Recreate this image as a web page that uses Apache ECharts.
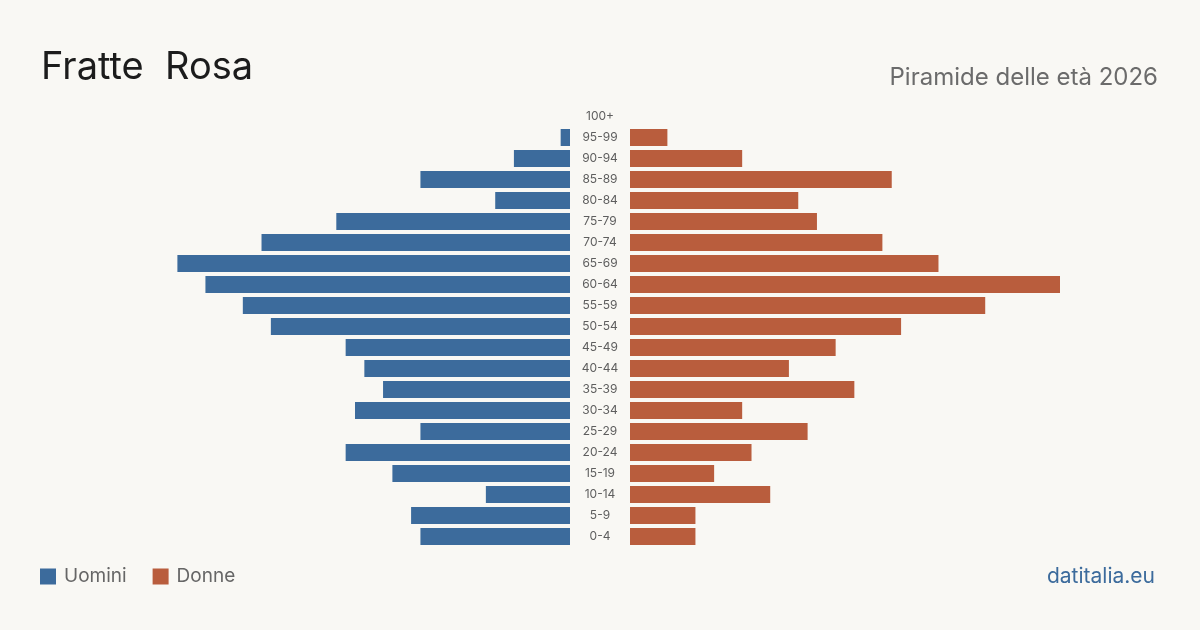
<!DOCTYPE html>
<html>
<head>
<meta charset="utf-8">
<script src="https://cdn.jsdelivr.net/npm/echarts@6/dist/echarts.min.js"></script>
<style>
  html, body { margin: 0; padding: 0; background: #f9f8f4; }
  #main { width: 1200px; height: 630px; }
</style>
</head>
<body>
<div id="main"></div>
<script>
var classi = ['0-4', '5-9', '10-14', '15-19', '20-24', '25-29', '30-34', '35-39', '40-44',
	'45-49', '50-54', '55-59', '60-64', '65-69', '70-74', '75-79', '80-84', '85-89',
	'90-94', '95-99', '100+'];
var uomini = [16, 17, 9, 19, 24, 16, 23, 20, 22, 24, 32, 35, 39, 42, 33, 25, 8, 16, 6, 1, 0];
var donne = [7, 7, 15, 9, 13, 19, 12, 24, 17, 22, 29, 38, 46, 33, 27, 20, 18, 28, 12, 4, 0];
var massimo = 46;

var blu = '#3c6b9c';
var arancio = '#b95d3d';
var font = 'Inter';

var opzioni = {
	backgroundColor: '#f9f8f4',
	animation: false,
	textStyle: { fontFamily: font },
	title: [{
		text: 'Fratte  Rosa',
		left: 36,
		top: 44,
		textStyle: { fontFamily: font, fontSize: 38, fontWeight: 'normal', color: '#1c1c1c' }
	}, {
		text: 'Piramide delle età 2026',
		right: 37,
		top: 61,
		textStyle: { fontFamily: font, fontSize: 24, fontWeight: 'normal', color: '#6b6b6b' }
	}, {
		text: 'datitalia.eu',
		right: 40,
		top: 561,
		textStyle: { fontFamily: font, fontSize: 21, fontWeight: 'normal', color: blu }
	}],
	legend: {
		left: 40,
		top: 567,
		padding: 0,
		icon: 'rect',
		itemWidth: 16,
		itemHeight: 16,
		itemGap: 26,
		textStyle: { fontFamily: font, fontSize: 19, color: '#666', padding: [0, 0, 0, 3] },
		data: ['Uomini', 'Donne']
	},
	grid: [
		{ left: 140, width: 430, top: 106, height: 441 },
		{ left: 630, width: 430, top: 106, height: 441 }
	],
	xAxis: [
		{ gridIndex: 0, type: 'value', min: 0, max: massimo, inverse: true, show: false },
		{ gridIndex: 1, type: 'value', min: 0, max: massimo, show: false }
	],
	yAxis: [{
		gridIndex: 0,
		type: 'category',
		data: classi,
		show: false
	}, {
		gridIndex: 1,
		type: 'category',
		data: classi,
		position: 'left',
		axisLine: { show: false },
		axisTick: { show: false },
		axisLabel: {
			margin: 30,
			align: 'center',
			fontFamily: font,
			fontSize: 12,
			color: '#5e5e5e'
		}
	}],
	series: [{
		name: 'Uomini',
		type: 'bar',
		xAxisIndex: 0,
		yAxisIndex: 0,
		barWidth: 17,
		itemStyle: { color: blu },
		data: uomini
	}, {
		name: 'Donne',
		type: 'bar',
		xAxisIndex: 1,
		yAxisIndex: 1,
		barWidth: 17,
		itemStyle: { color: arancio },
		data: donne
	}]
};

var grafico = echarts.init(document.getElementById('main'));
grafico.setOption(opzioni);
</script>
</body>
</html>
